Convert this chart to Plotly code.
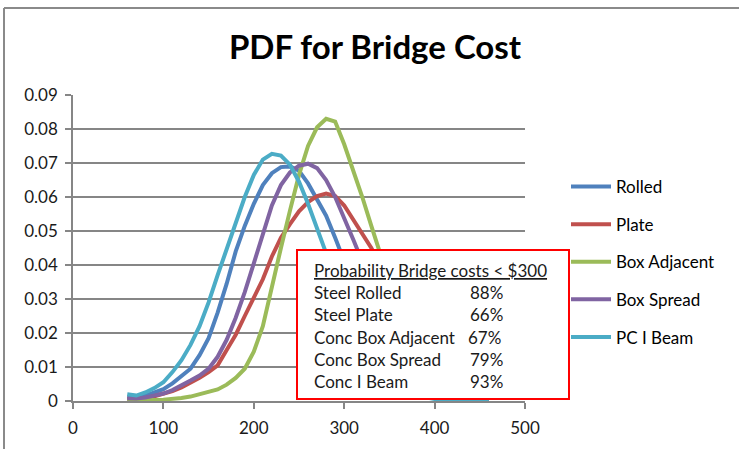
import plotly.graph_objects as go

# ---------------- data ----------------
cost = [60, 70, 80, 90, 100, 110, 120, 130, 140, 150,
        160, 170, 180, 190, 200, 210, 220, 230, 240, 250,
        260, 270, 280, 290, 300, 310, 320, 330, 340, 350,
        360, 370, 380, 390, 400, 410, 420, 430, 440, 450, 460]

rolled = [0.0012, 0.0011, 0.0016, 0.0024, 0.0035, 0.0052, 0.0073, 0.0095, 0.0135, 0.0185,
          0.026, 0.0345, 0.044, 0.0515, 0.058, 0.0635, 0.067, 0.0688, 0.069, 0.0677,
          0.064, 0.0595, 0.0545, 0.048, 0.041, 0.034, 0.0275, 0.0215, 0.016, 0.0115,
          0.008, 0.0055, 0.0036, 0.0023, 0.0014, 0.0008, 0.0005, 0.0003, 0.0002, 0.0001, 0.0]

plate = [0.0005, 0.0006, 0.0009, 0.0014, 0.002, 0.0029, 0.004, 0.0053, 0.0068, 0.0085,
         0.0105, 0.015, 0.0195, 0.025, 0.0305, 0.0358, 0.0425, 0.048, 0.052, 0.0558,
         0.0585, 0.0603, 0.061, 0.0603, 0.0575, 0.0535, 0.049, 0.045, 0.040, 0.0345,
         0.029, 0.024, 0.0195, 0.0155, 0.012, 0.009, 0.0066, 0.0047, 0.0033, 0.0023, 0.0015]

box_adjacent = [0.0001, 0.0001, 0.0002, 0.0003, 0.0004, 0.0006, 0.0009, 0.0013, 0.0019, 0.0026,
                0.0034, 0.0048, 0.0068, 0.0095, 0.0145, 0.022, 0.034, 0.045, 0.056, 0.0665,
                0.075, 0.0805, 0.083, 0.0822, 0.0755, 0.068, 0.060, 0.0515, 0.043, 0.035,
                0.0275, 0.021, 0.0155, 0.011, 0.0075, 0.005, 0.0032, 0.002, 0.0012, 0.0007, 0.0004]

box_spread = [0.0008, 0.0007, 0.001, 0.0015, 0.0022, 0.0032, 0.0045, 0.006, 0.0075, 0.0095,
              0.013, 0.018, 0.0245, 0.032, 0.0405, 0.0495, 0.0575, 0.0635, 0.0672, 0.0692,
              0.0698, 0.0685, 0.065, 0.060, 0.054, 0.0475, 0.041, 0.034, 0.0275, 0.0215,
              0.0165, 0.012, 0.0085, 0.006, 0.004, 0.0026, 0.0016, 0.001, 0.0006, 0.0004, 0.0002]

pc_i_beam = [0.002, 0.0016, 0.0025, 0.0038, 0.0055, 0.0085, 0.012, 0.0165, 0.022, 0.029,
             0.037, 0.0445, 0.0525, 0.060, 0.0665, 0.071, 0.0727, 0.0722, 0.0695, 0.0645,
             0.058, 0.051, 0.0435, 0.036, 0.029, 0.0225, 0.017, 0.0125, 0.009, 0.006,
             0.004, 0.0026, 0.0016, 0.001, 0.0006, 0.0004, 0.0002, 0.0001, 0.0001, 0.0, 0.0]

series_names = ["Rolled", "Plate", "Box Adjacent", "Box Spread", "PC I Beam"]
series_values = [rolled, plate, box_adjacent, box_spread, pc_i_beam]

x_tick_vals = [0, 100, 200, 300, 400, 500]
y_tick_vals = [0, 0.01, 0.02, 0.03, 0.04, 0.05, 0.06, 0.07, 0.08, 0.09]
y_tick_text = ["0", "0.01", "0.02", "0.03", "0.04", "0.05", "0.06", "0.07", "0.08", "0.09"]

box_title = "Probability Bridge costs < $300"
box_labels = ["Steel Rolled", "Steel Plate", "Conc Box Adjacent", "Conc Box Spread", "Conc I Beam"]
box_percents = ["88%", "66%", "67%", "79%", "93%"]

# ---------------- style ----------------
colors = ["#4F81BD", "#C0504D", "#9BBB59", "#8064A2", "#4BACC6"]
FONT = "Lato, 'Open Sans', sans-serif"
GRID = "#868686"

W, H = 739, 449
L, R, T, B = 73, 214, 95, 48
PW, PH = W - L - R, H - T - B


def px_x(p):
    return (p - L) / PW


def px_y(p):
    return (H - B - p) / PH


fig = go.Figure()
for name, vals, col in zip(series_names, series_values, colors):
    fig.add_trace(go.Scatter(
        x=cost, y=vals, mode="lines", name=name, legendgroup=name,
        line=dict(color=col, width=4),
    ))

fig.update_layout(
    width=W, height=H, autosize=False,
    margin=dict(l=L, r=R, t=T, b=B, pad=0),
    paper_bgcolor="white", plot_bgcolor="white",
    font=dict(family=FONT, size=17, color="#1a1a1a"),
    title=dict(text="<b>PDF for Bridge Cost</b>", x=375 / W, xanchor="center",
               y=1 - 47 / H, yanchor="middle", xref="container", yref="container",
               font=dict(family=FONT, size=33, color="#000000")),
    showlegend=True,
    legend=dict(x=px_x(566), xanchor="left", y=px_y(169), yanchor="top",
                font=dict(family=FONT, size=17, color="#000000"),
                tracegroupgap=12.5, bgcolor="rgba(0,0,0,0)", borderwidth=0,
                itemwidth=40),
    xaxis=dict(range=[0, 500], tickvals=x_tick_vals, showgrid=False,
               showline=True, linecolor=GRID, linewidth=1.5,
               ticks="outside", ticklen=6, tickcolor=GRID, tickwidth=1.5,
               ticklabelstandoff=5,
               zeroline=False, tickfont=dict(size=17, color="#1a1a1a")),
    yaxis=dict(range=[0, 0.09], tickvals=y_tick_vals, ticktext=y_tick_text,
               showgrid=True, gridcolor=GRID, gridwidth=1.5,
               showline=True, linecolor=GRID, linewidth=1.5,
               ticks="outside", ticklen=6, tickcolor=GRID, tickwidth=1.5,
               ticklabelstandoff=4,
               zeroline=False, tickfont=dict(size=17, color="#1a1a1a")),
)

shapes = [
    # chart-area border (left and top edges visible)
    dict(type="line", xref="paper", yref="paper", x0=px_x(4), x1=px_x(4),
         y0=px_y(8), y1=px_y(470), line=dict(color="#8a8a8a", width=2), layer="above"),
    dict(type="line", xref="paper", yref="paper", x0=px_x(4), x1=px_x(760),
         y0=px_y(8), y1=px_y(8), line=dict(color="#8a8a8a", width=2), layer="above"),
    # text box
    dict(type="rect", xref="paper", yref="paper", x0=px_x(297), x1=px_x(569),
         y0=px_y(399), y1=px_y(250), fillcolor="white",
         line=dict(color="#FF0000", width=2), layer="above"),
]
fig.update_layout(shapes=shapes)

row_y = [292, 314, 337, 359, 381.5]
annotations = [dict(text="<u>" + box_title + "</u>", xref="paper", yref="paper",
                    x=px_x(312), y=px_y(270), xanchor="left", yanchor="middle",
                    showarrow=False, font=dict(family=FONT, size=17, color="#1a1a1a"))]
for lab, pct, ry in zip(box_labels, box_percents, row_y):
    annotations.append(dict(text=lab, xref="paper", yref="paper", x=px_x(312), y=px_y(ry),
                            xanchor="left", yanchor="middle", showarrow=False,
                            font=dict(family=FONT, size=17, color="#1a1a1a")))
    annotations.append(dict(text=pct, xref="paper", yref="paper",
                            x=px_x(466 if pct == "67%" else 468), y=px_y(ry),
                            xanchor="left", yanchor="middle", showarrow=False,
                            font=dict(family=FONT, size=17, color="#1a1a1a")))
fig.update_layout(annotations=annotations)

fig.write_html("out.html", config={"displayModeBar": False},
               post_script="document.body.style.margin='0';document.body.style.padding='0';")
